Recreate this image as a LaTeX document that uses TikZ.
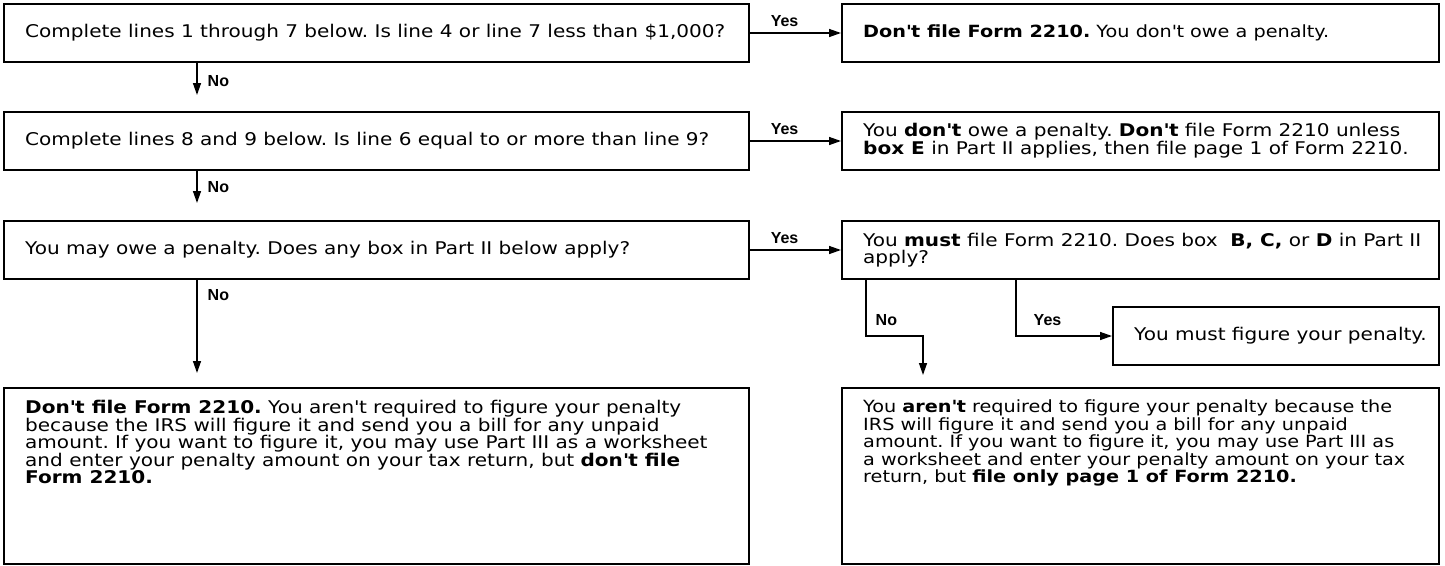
\documentclass[tikz,border=0pt]{standalone}
\usepackage{fontspec}
\setmainfont{DejaVu Sans}[FakeStretch=1.145]
\newfontfamily\lblfont{Liberation Sans}
\usetikzlibrary{arrows.meta,positioning}
\newcommand{\ap}{\textquotesingle}

\begin{document}
\frenchspacing
\begin{tikzpicture}[x=1pt,y=-1pt,
  box/.style={draw,line width=2pt,anchor=north west,inner sep=0pt,minimum height=58pt},
  wide/.style={box,minimum width=745pt},
  narrow/.style={box,minimum width=597pt},
  txt/.style={inner sep=0pt,align=left,font=\fontsize{17.5}{16.5}\selectfont},
  small/.style={txt,font=\fontsize{16.8}{16.5}\selectfont},
  para/.style={font=\fontsize{17.5}{17.5}\selectfont},
  flow/.style={line width=1.4pt,-{Triangle[length=12pt,width=8pt]}},
  ans/.style={font=\lblfont\fontsize{16}{16}\selectfont\bfseries,inner sep=0pt}]
\useasboundingbox (0,0) rectangle (1445,565);
\node[wide] (q1) at (3,3) {};
\node[narrow] (a1) at (841,3) {};
\node[wide] (q2) at (3,111) {};
\node[narrow] (a2) at (841,111) {};
\node[wide] (q3) at (3,220) {};
\node[narrow] (q4) at (841,220) {};
\node[box,minimum width=326pt] (fig) at (1112,306) {};
\node[wide,minimum height=176pt] (r1) at (3,387) {};
\node[narrow,minimum height=176pt] (r2) at (841,387) {};
\node[txt,right=22pt of q1.west] (t1) {Complete lines 1 through 7 below. Is line 4 or line 7 less than \$1,000?};
\node[small,right=22pt of a1.west] (t2) {\textbf{Don\ap t file Form 2210.} You don\ap t owe a penalty.};
\node[txt,right=22pt of q2.west] (t3) {Complete lines 8 and 9 below. Is line 6 equal to or more than line 9?};
\node[txt,right=22pt of a2.west] (t4) {You \textbf{don\ap t} owe a penalty. \textbf{Don\ap t} file Form 2210 unless\\
  \textbf{box E} in Part II applies, then file page 1 of Form 2210.};
\node[txt,right=22pt of q3.west] (t5) {You may owe a penalty. Does any box in Part II below apply?};
\node[txt,right=22pt of q4.west] (t6) {You \textbf{must} file Form 2210. Does box\ \ \textbf{B, C,} or \textbf{D} in Part II\\apply?};
\node[txt,right=22pt of fig.west] (t7) {You must figure your penalty.};
\node[txt,para,below right=13pt and 22pt of r1.north west] (t8) {\textbf{Don\ap t file Form 2210.} You aren\ap t required to figure your penalty\\
  because the IRS will figure it and send you a bill for any unpaid\\
  amount. If you want to figure it, you may use Part III as a worksheet\\
  and enter your penalty amount on your tax return, but \textbf{don\ap t file}\\
  \textbf{Form 2210.}};
\node[small,para,font=\fontsize{16.8}{17.5}\selectfont,below right=13pt and 22pt of r2.north west] (t9) {You \textbf{aren\ap t} required to figure your penalty because the\\
  IRS will figure it and send you a bill for any unpaid\\
  amount. If you want to figure it, you may use Part III as\\
  a worksheet and enter your penalty amount on your tax\\
  return, but \textbf{file only page 1 of Form 2210.}};
\coordinate (d1) at (197,95);
\coordinate (d2) at (197,203);
\coordinate (d3) at (197,373);
\coordinate (nb) at (923,336);
\coordinate (nt) at (923,375);
\draw[flow] (q1.east) -- node[ans,above=6pt,pos=0.38] (y1) {Yes} (a1.west);
\draw[flow] (q2.east) -- node[ans,above=6pt,pos=0.38] (y2) {Yes} (a2.west);
\draw[flow] (q3.east) -- node[ans,above=6pt,pos=0.38] (y3) {Yes} (q4.west);
\draw[flow] ([xshift=194pt]q1.south west) -- node[ans,right=10pt,pos=0.56] (n1) {No} (d1);
\draw[flow] ([xshift=194pt]q2.south west) -- node[ans,right=10pt,pos=0.5] (n2) {No} (d2);
\draw[flow] ([xshift=194pt]q3.south west) -- node[ans,right=10pt,pos=0.16] (n3) {No} (d3);
\draw[flow] ([xshift=25pt]q4.south west) |- node[ans,right=9pt,pos=0.36] (n4) {No} (nb) -- (nt);
\draw[flow] ([xshift=175pt]q4.south west) |- node[ans,right=17pt,pos=0.36] (y4) {Yes} (fig.west);
\end{tikzpicture}
\end{document}
